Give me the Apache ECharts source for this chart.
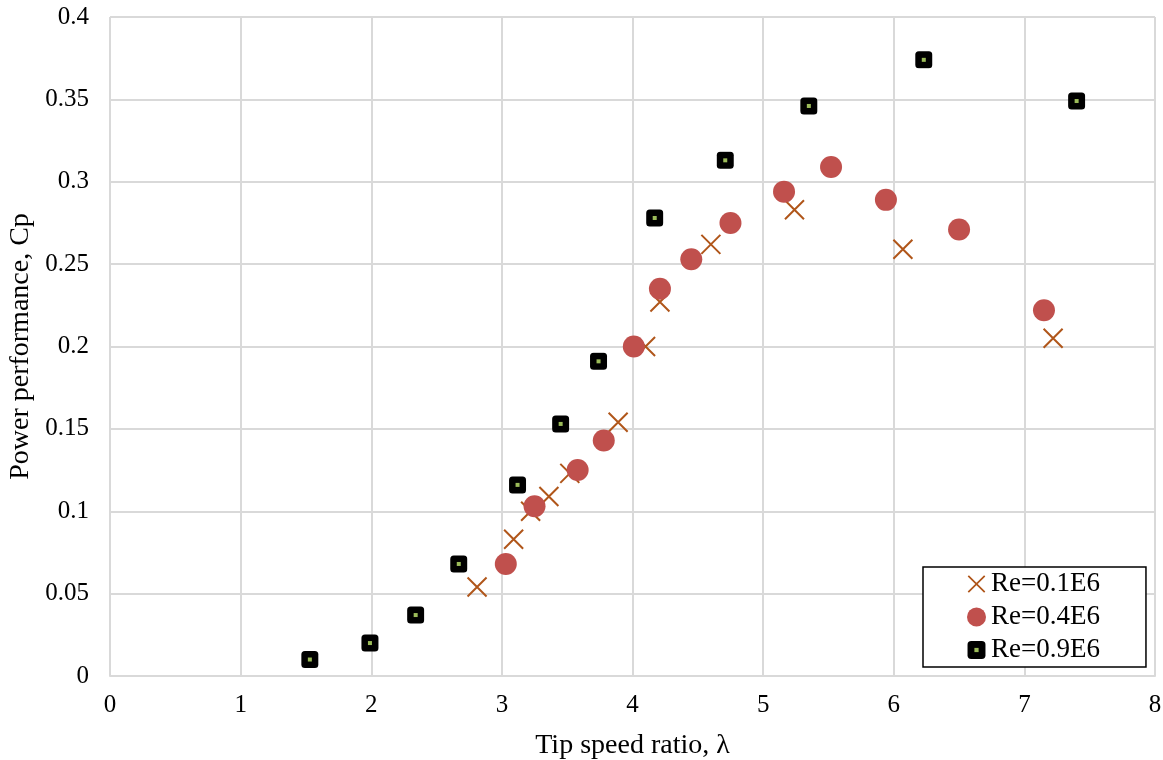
<!DOCTYPE html>
<html>
<head>
<meta charset="utf-8">
<style>
  html, body { margin: 0; padding: 0; background: #fff; }
  #chart { width: 1163px; height: 760px; }
</style>
<script src="https://cdn.jsdelivr.net/npm/echarts@6/dist/echarts.min.js"></script>
</head>
<body>
<div id="chart"></div>
<script>
// Power coefficient versus tip speed ratio for three Reynolds numbers
const seriesNames = ['Re=0.1E6', 'Re=0.4E6', 'Re=0.9E6'];

const re01 = [
  [2.81, 0.054], [3.09, 0.083], [3.22, 0.100], [3.36, 0.109], [3.52, 0.123],
  [3.89, 0.154], [4.10, 0.200], [4.21, 0.227], [4.60, 0.262], [5.24, 0.283],
  [6.07, 0.259], [7.22, 0.205]
];

const re04 = [
  [3.03, 0.068], [3.25, 0.103], [3.58, 0.125], [3.78, 0.143], [4.01, 0.200],
  [4.21, 0.235], [4.45, 0.253], [4.75, 0.275], [5.16, 0.294], [5.52, 0.309],
  [5.94, 0.289], [6.50, 0.271], [7.15, 0.222]
];

const re09 = [
  [1.53, 0.010], [1.99, 0.020], [2.34, 0.037], [2.67, 0.068], [3.12, 0.116],
  [3.45, 0.153], [3.74, 0.191], [4.17, 0.278], [4.71, 0.313], [5.35, 0.346],
  [6.23, 0.374], [7.40, 0.349]
];

const xTicks = [0, 1, 2, 3, 4, 5, 6, 7, 8];
const yTicks = [0, 0.05, 0.1, 0.15, 0.2, 0.25, 0.3, 0.35, 0.4];

const FONT = "'Liberation Serif', 'Times New Roman', serif";
const GRID_COLOR = '#d9d9d9';

function svgSymbol(svg) {
  return 'image://data:image/svg+xml;charset=utf-8,' + encodeURIComponent(svg);
}

const crossSymbol = svgSymbol(
  "<svg xmlns='http://www.w3.org/2000/svg' width='22' height='22'>" +
  "<path d='M1.5 1.5L20.5 20.5M20.5 1.5L1.5 20.5' stroke='#B0561A' stroke-width='2' fill='none'/></svg>"
);
const squareSymbol = svgSymbol(
  "<svg xmlns='http://www.w3.org/2000/svg' width='18' height='18'>" +
  "<rect x='0.5' y='0.5' width='17' height='17' rx='3.5' ry='3.5' fill='#000'/>" +
  "<rect x='7' y='7' width='4' height='4' fill='#9BBB59'/></svg>"
);

const chart = echarts.init(document.getElementById('chart'), null, { renderer: 'canvas' });

chart.setOption({
  animation: false,
  backgroundColor: '#fff',
  textStyle: { fontFamily: FONT },
  grid: {
    left: 110, right: 8, top: 17, bottom: 84,
    containLabel: false,
    outerBoundsMode: 'none'
  },
  xAxis: {
    type: 'value',
    min: xTicks[0],
    max: xTicks[xTicks.length - 1],
    interval: 1,
    name: 'Tip speed ratio, λ',
    nameLocation: 'middle',
    nameGap: 56,
    nameTextStyle: { fontFamily: FONT, fontSize: 28, color: '#000' },
    axisLine: { show: true, lineStyle: { color: GRID_COLOR, width: 2 } },
    axisTick: { show: false },
    axisLabel: { fontFamily: FONT, fontSize: 25, color: '#000', margin: 17 },
    splitLine: { show: true, lineStyle: { color: GRID_COLOR, width: 2 } }
  },
  yAxis: {
    type: 'value',
    min: yTicks[0],
    max: yTicks[yTicks.length - 1],
    interval: 0.05,
    name: 'Power performance, Cp',
    nameLocation: 'middle',
    nameGap: 65,
    nameTextStyle: { fontFamily: FONT, fontSize: 28, color: '#000' },
    axisLine: { show: false },
    axisTick: { show: false },
    axisLabel: {
      fontFamily: FONT, fontSize: 25, color: '#000', margin: 21,
      formatter: v => String(Math.round(v * 100) / 100)
    },
    splitLine: { show: true, lineStyle: { color: GRID_COLOR, width: 2 } }
  },
  legend: {
    orient: 'vertical',
    left: 923,
    top: 567,
    padding: [3, 46, 3, 44],
    itemGap: 5,
    itemWidth: 19,
    itemHeight: 19,
    borderColor: '#000',
    borderWidth: 1.5,
    borderRadius: 0,
    backgroundColor: '#fff',
    textStyle: { fontFamily: FONT, fontSize: 27, lineHeight: 28, color: '#000' },
    data: [
      { name: seriesNames[0], icon: crossSymbol },
      { name: seriesNames[1], icon: 'circle', itemStyle: { color: '#C0504D', opacity: 1 } },
      { name: seriesNames[2], icon: squareSymbol }
    ]
  },
  series: [
    {
      name: seriesNames[0],
      type: 'scatter',
      data: re01,
      symbol: crossSymbol,
      symbolSize: 22,
      itemStyle: { opacity: 1 },
      z: 2
    },
    {
      name: seriesNames[1],
      type: 'scatter',
      data: re04,
      symbol: 'circle',
      symbolSize: 22,
      itemStyle: { color: '#C0504D', opacity: 1 },
      z: 3
    },
    {
      name: seriesNames[2],
      type: 'scatter',
      data: re09,
      symbol: squareSymbol,
      symbolSize: 18,
      itemStyle: { opacity: 1 },
      z: 4
    }
  ]
});
</script>
</body>
</html>
